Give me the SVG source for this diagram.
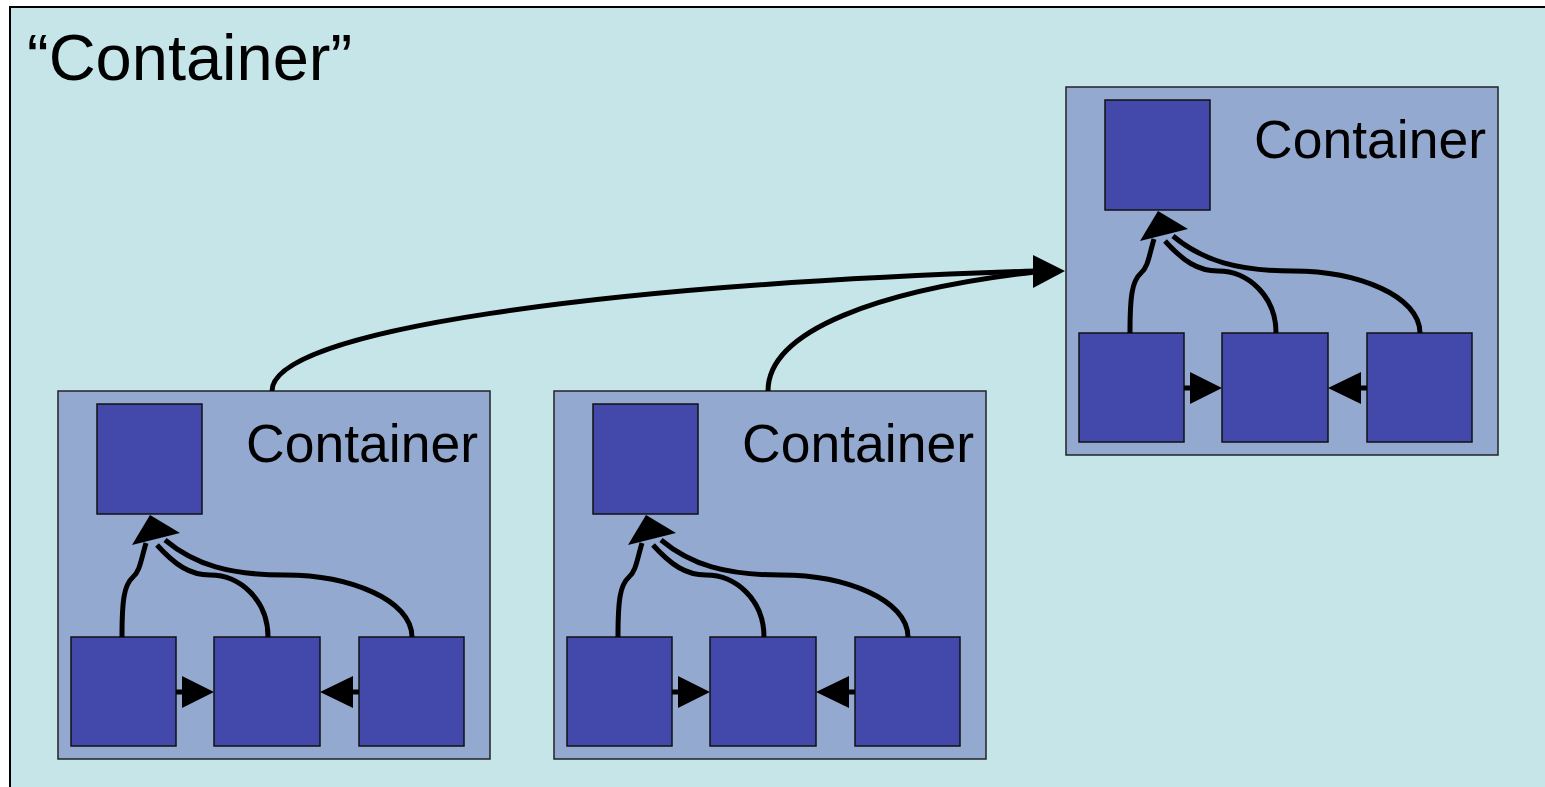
<svg xmlns="http://www.w3.org/2000/svg" width="1545" height="787" viewBox="0 0 1545 787">
<style>
.frame{fill:#C5E5E8;stroke:#000;stroke-width:2}
.cont{fill:#94A9CF;stroke:#222;stroke-width:1.5}
.sq{fill:#4349AA;stroke:#111;stroke-width:1.5}
.lbl{font-family:"Liberation Sans",Arial,sans-serif;font-size:53.5px;fill:#000;text-anchor:end}
.title{font-family:"Liberation Sans",Arial,sans-serif;font-size:65px;fill:#000}
.edge{fill:none;stroke:#000;stroke-width:5}
.head{fill:#000;stroke:none}
</style>
<rect x="0" y="0" width="1545" height="787" fill="#fff"/>
<g id="outer">
<rect class="frame" x="10" y="7" width="1545" height="800"/>
<text class="title" x="27" y="80">“Container”</text>
</g>
<g id="container1">
<rect class="cont" x="58" y="391" width="432" height="368"/>
<text class="lbl" x="478" y="462">Container</text>
</g>
<g id="container2" transform="translate(496,0)">
<rect class="cont" x="58" y="391" width="432" height="368"/>
<text class="lbl" x="478" y="462">Container</text>
</g>
<g id="container3" transform="translate(1008,-304)">
<rect class="cont" x="58" y="391" width="432" height="368"/>
<text class="lbl" x="478" y="462">Container</text>
</g>
<g id="c1-top"><rect class="sq" x="97" y="404" width="105" height="110"/></g>
<g id="c1-a"><rect class="sq" x="71" y="637" width="105" height="109"/></g>
<g id="c1-b"><rect class="sq" x="214" y="637" width="106" height="109"/></g>
<g id="c1-c"><rect class="sq" x="359" y="637" width="105" height="109"/></g>
<g id="c2-top" transform="translate(496,0)"><rect class="sq" x="97" y="404" width="105" height="110"/></g>
<g id="c2-a" transform="translate(496,0)"><rect class="sq" x="71" y="637" width="105" height="109"/></g>
<g id="c2-b" transform="translate(496,0)"><rect class="sq" x="214" y="637" width="106" height="109"/></g>
<g id="c2-c" transform="translate(496,0)"><rect class="sq" x="359" y="637" width="105" height="109"/></g>
<g id="c3-top" transform="translate(1008,-304)"><rect class="sq" x="97" y="404" width="105" height="110"/></g>
<g id="c3-a" transform="translate(1008,-304)"><rect class="sq" x="71" y="637" width="105" height="109"/></g>
<g id="c3-b" transform="translate(1008,-304)"><rect class="sq" x="214" y="637" width="106" height="109"/></g>
<g id="c3-c" transform="translate(1008,-304)"><rect class="sq" x="359" y="637" width="105" height="109"/></g>
<g id="connectors">
<g id="inner1">
<path class="edge" d="M122,637 C122,600 124,585 133,577 C140,571 141,560 146,543"/>
<path class="edge" d="M268,637 C268,600 240,575 210,575 C190,575 175,565 157,545"/>
<path class="edge" d="M412,637 C412,600 350,575 285,575 C230,575 195,565 165,540"/>
<polygon class="head" points="150,515 132,545 180,533"/>
<path class="edge" d="M176,692 H184"/>
<polygon class="head" points="214,692 182,676 182,708"/>
<path class="edge" d="M359,692 H351"/>
<polygon class="head" points="320,692 353,676 353,708"/>
</g>
<g id="inner2" transform="translate(496,0)">
<path class="edge" d="M122,637 C122,600 124,585 133,577 C140,571 141,560 146,543"/>
<path class="edge" d="M268,637 C268,600 240,575 210,575 C190,575 175,565 157,545"/>
<path class="edge" d="M412,637 C412,600 350,575 285,575 C230,575 195,565 165,540"/>
<polygon class="head" points="150,515 132,545 180,533"/>
<path class="edge" d="M176,692 H184"/>
<polygon class="head" points="214,692 182,676 182,708"/>
<path class="edge" d="M359,692 H351"/>
<polygon class="head" points="320,692 353,676 353,708"/>
</g>
<g id="inner3" transform="translate(1008,-304)">
<path class="edge" d="M122,637 C122,600 124,585 133,577 C140,571 141,560 146,543"/>
<path class="edge" d="M268,637 C268,600 240,575 210,575 C190,575 175,565 157,545"/>
<path class="edge" d="M412,637 C412,600 350,575 285,575 C230,575 195,565 165,540"/>
<polygon class="head" points="150,515 132,545 180,533"/>
<path class="edge" d="M176,692 H184"/>
<polygon class="head" points="214,692 182,676 182,708"/>
<path class="edge" d="M359,692 H351"/>
<polygon class="head" points="320,692 353,676 353,708"/>
</g>
<path class="edge" d="M272,391 C272,330 600,285 1035,271"/>
<path class="edge" d="M768,391 C768,330 880,290 1035,272"/>
<polygon class="head" points="1065,271 1033,255 1033,288"/>
</g>
</svg>
